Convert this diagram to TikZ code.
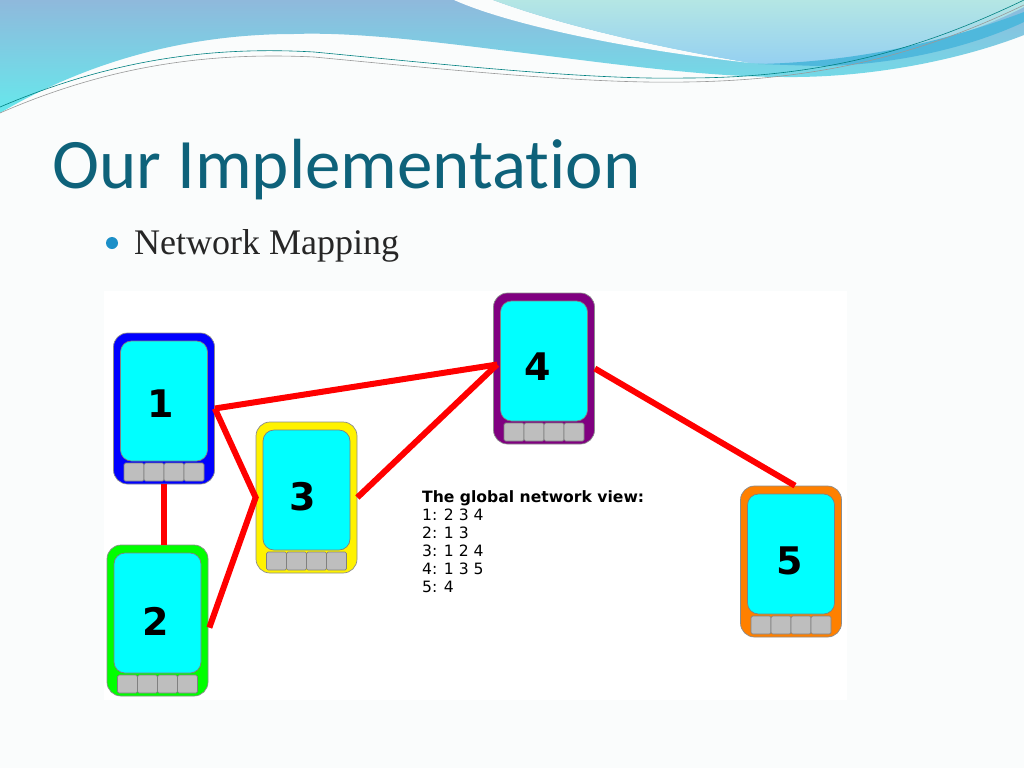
\documentclass[tikz,border=0pt]{standalone}
\usepackage{fontspec}
\setmainfont{Liberation Serif}
\newfontfamily\titlefont[Ligatures=NoCommon]{Carlito}
\newfontfamily\viewfont{DejaVu Sans}
\usetikzlibrary{positioning}
\definecolor{pagebg}{HTML}{FAFCFC}
\definecolor{titleblue}{HTML}{0E627A}
\definecolor{bulletblue}{HTML}{1B8FC8}
\definecolor{screencyan}{HTML}{00FFFF}
\definecolor{keygray}{HTML}{BEBEBE}
\definecolor{phonepurple}{HTML}{800080}
\definecolor{phoneorange}{HTML}{FF8000}
\definecolor{bandtop}{HTML}{8FB9DC}
\definecolor{bandlow}{HTML}{66E8EC}
\definecolor{lighttop}{HTML}{B4E6E4}
\definecolor{lightlow}{HTML}{92CEF2}
\definecolor{stripeblue}{HTML}{4FB8DC}
\begin{document}
\begin{tikzpicture}[x=1pt,y=-1pt,phonebody/.style={draw=black!45,line width=0.7pt,rounded corners=14pt,minimum width=101pt,minimum height=151pt,inner sep=0pt},screenbox/.style={draw=black!50,line width=0.7pt,fill=screencyan,rounded corners=11pt,minimum width=87pt,minimum height=120pt,inner sep=0pt},numlabel/.style={inner sep=0pt,font=\viewfont\bfseries\fontsize{38}{38}\selectfont},keybox/.style={draw=black!50,line width=0.7pt,fill=keygray,rounded corners=1.5pt,minimum width=20pt,minimum height=18pt,inner sep=0pt},linkline/.style={red,line width=6pt},thinwave/.style={line width=0.6pt}]
\useasboundingbox (0,0) rectangle (1024,768);
\fill[pagebg] (0,0) rectangle (1024,768);
% top banner
\shade[top color=bandtop,bottom color=bandlow] (0,0) -- (1024,0) -- (1024,35) .. controls (960,60) and (870,78) .. (784,77) .. controls (700,77) and (600,62) .. (500,50) .. controls (420,40) and (350,32) .. (294,34) .. controls (190,34) and (90,60) .. (0,113) -- cycle;
\fill[pagebg] (454,0) .. controls (510,25) and (630,50) .. (751,63) .. controls (660,48) and (560,25) .. (493,0) -- cycle;
\shade[top color=lighttop,bottom color=lightlow] (493,0) .. controls (560,25) and (660,48) .. (751,63) .. controls (850,70) and (950,45) .. (1024,7) -- (1024,0) -- cycle;
\fill[stripeblue] (758,64) .. controls (860,62) and (950,40) .. (1024,12) -- (1024,22) .. controls (960,52) and (880,66) .. (817,66) -- cycle;
\draw[thinwave,teal] (0,107) .. controls (110,60) and (210,46) .. (314,52) .. controls (450,65) and (590,80) .. (686,78) .. controls (830,78) and (930,45) .. (1024,0);
\draw[thinwave,black!40] (0,113) .. controls (110,65) and (210,52) .. (314,57) .. controls (450,70) and (590,84) .. (686,82) .. controls (830,80) and (930,50) .. (1024,5);
% title and bullet
\node[anchor=base west,inner sep=0pt,text=titleblue,font=\titlefont\fontsize{71}{71}\selectfont] (title) at (52,188) {Our Implementation};
\node[circle,fill=bulletblue,minimum size=12pt,inner sep=0pt] (dot) at (112,243) {};
\node[anchor=base west,inner sep=0pt,text=black!85,font=\fontsize{36}{36}\selectfont] (item) at (134,254) {Network Mapping};
\fill[white] (104,291) rectangle (847,700);
% phones
\foreach \nr/\px/\py/\col/\lx/\ly in {1/164/408.5/blue/161/404,2/157.5/620.5/green/156/621,3/306.5/497.5/yellow/303/497,4/544/368.5/phonepurple/538/367,5/791/561.5/phoneorange/790/561}{
  \node[phonebody,fill=\col] (p\nr) at (\px,\py) {};
  \node[screenbox] (s\nr) at (\px,\py-7.5) {};
  \node[numlabel] (n\nr) at (\lx,\ly) {\nr};
  \foreach \k/\dx in {1/-30,2/-10,3/10,4/30}
    \node[keybox] (k\nr\k) at (\px+\dx,\py+63.5) {};
}
% links
\coordinate[right=1pt of p2.-8] (l2);
\coordinate[above right=4pt and 4pt of p4.west] (l4);
\coordinate[right=4pt of p5.north] (l5);
\draw[linkline] (p1.south) -- (p1.south |- p2.north);
\draw[linkline,line join=miter] (p1.east) -- (p3.west) -- (l2);
\draw[linkline] (p1.east) -- (l4);
\draw[linkline] (p3.east) -- (l4);
\draw[linkline] (p4.east) -- (l5);
\node[anchor=north west,inner sep=0pt,align=left,font=\viewfont\fontsize{15.6}{18}\selectfont] (view) at (422,490.5) {\textbf{The global network view:}\\1: 2 3 4\\2: 1 3\\3: 1 2 4\\4: 1 3 5\\5: 4};
\end{tikzpicture}
\end{document}
